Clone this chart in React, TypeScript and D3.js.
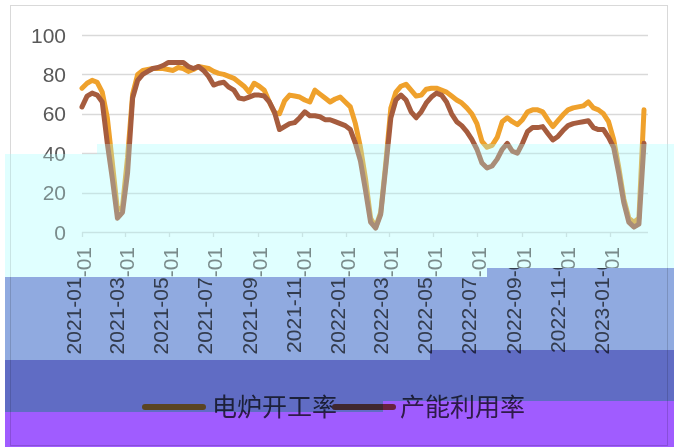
import * as d3 from "d3";
import React, { useEffect, useRef } from "react";

// weekly series starting 2021-01-01
const startDate = new Date(2021, 0, 1);

// 电炉开工率
const eafRate = [
  73, 75.5, 77, 76, 71, 58, 35, 11, 13, 38,
  70, 80, 82, 82.5, 83, 83, 83, 82.5, 82, 83.5,
  83, 81.5, 82.5, 84, 83.5, 83, 81.5, 80.5, 80, 79,
  78, 76, 74, 71, 75.5, 74, 72, 66, 60.5, 60,
  66.5, 69.5, 69, 68.5, 67, 66, 72, 70, 68, 66,
  67.5, 68.5, 66, 63.5, 55, 43, 27, 7, 2.5, 10,
  35, 63, 71, 74, 75, 72, 69, 69.5, 72.5, 73,
  73, 72, 71, 69, 67, 65.5, 63, 60, 55, 46,
  43, 44, 48, 56, 58, 56, 54.5, 57, 61, 62,
  62, 61, 57, 53.5, 56.5, 59.5, 62, 63, 63.5, 64,
  66, 63, 62, 60, 56, 47, 33, 17, 7, 5,
  7, 62,
];

// 产能利用率
const capUtil = [
  63.5, 69, 70.5, 69.5, 66, 45, 27, 7, 10, 30,
  68, 77, 80, 81.5, 83, 83.5, 84.5, 86, 86, 86,
  86, 84, 83, 84, 82, 79, 74.6, 75.5, 76, 73.5,
  72, 68, 67.5, 68.5, 69.5, 69.5, 69, 66, 61, 52,
  53.5, 55, 55.5, 58, 61, 59, 59, 58.5, 57, 57,
  56, 55, 54, 52, 45, 36, 21, 5, 2, 9,
  33, 58, 67, 69.5, 67, 61, 58, 61, 65.5, 68.5,
  70.5, 69.5, 66, 60, 56, 54, 51, 47, 42, 35,
  32.5, 33.5, 37, 42, 45, 41, 40, 45, 51, 53,
  53, 53.5, 50, 46.7, 48.5, 51.5, 54, 55, 55.5, 56,
  56.5, 53, 52, 52, 48, 43, 30, 15, 5, 2.5,
  4, 45,
];

const seriesNames = ["电炉开工率", "产能利用率"];
const seriesColors = ["#EFA12C", "#A65C3E"];
const yTicks = [0, 20, 40, 60, 80, 100];

const W = 674;
const H = 447;

const App = () => {
  const ref = useRef<SVGSVGElement>(null);

  useEffect(() => {
    const svg = d3.select(ref.current);
    svg.selectAll("*").remove();

    const x = d3
      .scaleTime()
      .domain([new Date(2021, 0, 1), new Date(2023, 0, 1)])
      .range([82, 610]);
    const y = d3.scaleLinear().domain([0, 100]).range([232, 35]);
    const date = (i: number) => d3.timeDay.offset(startDate, 7 * i);

    svg.append("rect").attr("width", W).attr("height", H).attr("fill", "#fff");

    // chart frame
    svg
      .append("rect")
      .attr("x", 10.5)
      .attr("y", 5.5)
      .attr("width", 657)
      .attr("height", 440)
      .attr("fill", "none")
      .attr("stroke", "#D9D9D9");

    // gridlines
    svg
      .selectAll("line.grid")
      .data(yTicks.slice(1))
      .enter()
      .append("line")
      .attr("x1", 82)
      .attr("x2", 648)
      .attr("y1", (d) => Math.round(y(d)) + 0.5)
      .attr("y2", (d) => Math.round(y(d)) + 0.5)
      .attr("stroke", "#D9D9D9")
      .attr("stroke-width", 1.3);

    // x axis line and ticks
    svg
      .append("line")
      .attr("x1", 82)
      .attr("x2", 648)
      .attr("y1", 232.5)
      .attr("y2", 232.5)
      .attr("stroke", "#D9D9D9")
      .attr("stroke-width", 1.3);

    const xTicks = d3.timeMonth.every(2)!.range(new Date(2021, 0, 1), new Date(2023, 0, 2));
    svg
      .selectAll("line.tick")
      .data(xTicks)
      .enter()
      .append("line")
      .attr("x1", (d) => Math.round(x(d)) + 0.5)
      .attr("x2", (d) => Math.round(x(d)) + 0.5)
      .attr("y1", 232)
      .attr("y2", 237)
      .attr("stroke", "#D9D9D9")
      .attr("stroke-width", 1.3);

    // y labels
    svg
      .selectAll("text.ylab")
      .data(yTicks)
      .enter()
      .append("text")
      .attr("x", 66)
      .attr("y", (d) => y(d))
      .attr("dy", "0.36em")
      .attr("text-anchor", "end")
      .attr("font-family", "Liberation Sans, Arial, sans-serif")
      .attr("font-size", 21)
      .attr("fill", "#595959")
      .text((d) => d);

    // x labels, the band above y≈270 is shifted right in the reference
    const fmt = d3.timeFormat("%Y-%m-%d");
    const defs = svg.append("defs");
    defs
      .append("clipPath")
      .attr("id", "clipUpper")
      .append("path")
      .attr("d", "M0,240 H487 V277 H0 Z M487,240 H674 V268 H487 Z");
    defs
      .append("clipPath")
      .attr("id", "clipLower")
      .append("path")
      .attr("d", "M0,277 H487 V268 H674 V400 H0 Z");

    const drawLabels = (clip: string, dx: number) => {
      svg
        .append("g")
        .attr("clip-path", `url(#${clip})`)
        .selectAll("text")
        .data(xTicks)
        .enter()
        .append("text")
        .attr("transform", (d) => `translate(${x(d) + dx},247) rotate(-90)`)
        .attr("dy", "0.36em")
        .attr("text-anchor", "end")
        .attr("font-family", "Liberation Sans, Arial, sans-serif")
        .attr("font-size", 21)
        .attr("fill", "#595959")
        .text((d) => fmt(d));
    };
    drawLabels("clipUpper", 1.5);
    drawLabels("clipLower", -8.5);

    // series
    const line = d3
      .line<number>()
      .x((_, i) => x(date(i)))
      .y((d) => y(d));
    [eafRate, capUtil].forEach((data, k) => {
      svg
        .append("path")
        .datum(data)
        .attr("d", line)
        .attr("fill", "none")
        .attr("stroke", seriesColors[k])
        .attr("stroke-width", 5)
        .attr("stroke-linejoin", "round")
        .attr("stroke-linecap", "round");
    });

    // legend
    const legendX = [145, 335];
    const lg = svg
      .selectAll("g.legend")
      .data(seriesNames)
      .enter()
      .append("g")
      .attr("transform", (_, i) => `translate(${legendX[i]},407)`);
    lg.append("line")
      .attr("x1", 0)
      .attr("x2", 58)
      .attr("stroke", (_, i) => seriesColors[i])
      .attr("stroke-width", 6)
      .attr("stroke-linecap", "round");
    lg.append("text")
      .attr("x", (_, i) => (i === 0 ? 67 : 65))
      .attr("y", 9)
      .attr("font-family", "Noto Sans CJK SC, sans-serif")
      .attr("font-size", 25)
      .attr("fill", "#4A4A4A")
      .text((d) => d);

    // colour bands laid over the picture
    svg
      .append("path")
      .attr("d", "M5,154 H97 V144 H674 V268 H487 V277 H5 Z")
      .attr("fill", "#fff")
      .attr("opacity", 0.3);
    const bands = [
      { d: "M5,154 H97 V144 H674 V268 H487 V277 H5 Z", c: "#E0FFFF" },
      { d: "M5,277 H487 V268 H674 V350 H430 V360 H5 Z", c: "#90AAE0" },
      { d: "M5,360 H430 V350 H674 V401 H383 V412 H5 Z", c: "#606CC4" },
      { d: "M5,412 H383 V401 H674 V447 H5 Z", c: "#A05CFF" },
    ];
    svg
      .selectAll("path.band")
      .data(bands)
      .enter()
      .append("path")
      .attr("d", (d) => d.d)
      .attr("fill", (d) => d.c)
      .style("mix-blend-mode", "multiply");
  }, []);

  return (
    <svg
      ref={ref}
      width={W}
      height={H}
      style={{ position: "absolute", left: 0, top: 0 }}
    />
  );
};

export default App;
